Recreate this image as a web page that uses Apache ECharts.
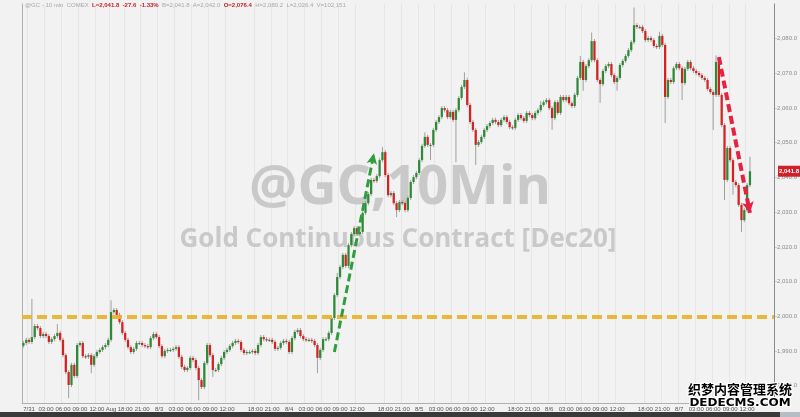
<!DOCTYPE html>
<html><head><meta charset="utf-8">
<script src="https://cdn.jsdelivr.net/npm/echarts@6/dist/echarts.min.js"></script>
<style>html,body{margin:0;padding:0;background:#f2f2f2;}#c{width:800px;height:417px;}</style>
</head><body><div id="c"></div>
<script>
const closes = [
1992.3,1993.2,1992.6,1994.0,1997.2,1996.6,1994.3,1994.9,1994.3,1992.6,
1993.4,1994.3,1995.2,1993.2,1988.8,1983.9,1980.2,1986.0,1982.8,1991.7,
1992.3,1988.5,1988.3,1988.8,1986.0,1988.5,1989.7,1990.3,1991.1,1991.7,
1993.2,2001.2,2001.8,2000.4,1998.3,1995.2,1993.2,1991.1,1989.7,1990.6,
1992.3,1992.3,1991.7,1991.4,1991.1,1993.7,1994.9,1994.0,1991.4,1988.5,
1990.0,1990.3,1990.3,1990.6,1991.1,1988.3,1985.4,1984.5,1985.1,1988.0,
1987.4,1985.1,1981.6,1979.6,1986.5,1991.7,1988.8,1984.5,1984.5,1986.2,
1988.0,1989.7,1990.3,1991.4,1992.3,1992.9,1992.6,1990.3,1989.4,1989.7,
1989.7,1990.0,1989.4,1991.7,1994.0,1993.4,1993.2,1993.2,1992.6,1990.6,
1990.9,1992.3,1992.9,1992.6,1989.7,1993.7,1995.5,1996.0,1994.3,1993.4,
1993.2,1993.2,1992.9,1991.7,1988.0,1990.3,1993.4,1993.4,1995.2,1999.5,
2006.1,2011.3,2014.2,2017.7,2014.5,2020.5,2023.7,2025.4,2023.7,2024.3,
2029.8,2032.6,2035.2,2039.3,2039.0,2040.4,2045.0,2047.3,2040.7,2034.9,
2035.5,2032.6,2030.6,2032.9,2032.6,2030.6,2034.1,2038.7,2040.1,2041.3,
2045.0,2049.1,2051.7,2049.4,2049.4,2053.7,2056.0,2057.4,2060.0,2059.4,
2057.4,2058.9,2056.6,2059.4,2062.9,2066.1,2068.1,2060.9,2056.0,2053.7,
2049.4,2050.2,2051.7,2053.7,2054.8,2055.7,2056.6,2056.0,2055.1,2056.6,
2057.4,2056.0,2054.5,2054.3,2056.6,2058.0,2057.1,2056.3,2058.6,2058.0,
2057.1,2058.6,2059.4,2060.9,2061.7,2062.3,2060.0,2057.1,2061.7,2058.6,
2063.2,2062.3,2063.2,2061.4,2060.6,2063.8,2068.7,2073.3,2068.1,2072.1,
2073.8,2079.3,2073.8,2068.1,2066.9,2070.7,2072.1,2072.7,2069.5,2067.5,
2068.7,2072.4,2073.6,2075.0,2076.7,2079.0,2083.9,2083.4,2083.4,2082.2,
2079.6,2080.2,2079.6,2077.9,2077.6,2080.8,2078.2,2063.2,2068.1,2067.5,
2071.5,2072.7,2071.5,2067.2,2071.3,2073.3,2071.5,2070.7,2070.1,2069.5,
2068.7,2068.1,2065.5,2064.6,2063.8,2073.3,2063.8,2055.1,2039.3,2048.5,
2045.0,2038.7,2037.8,2032.1,2027.7,2030.6,2037.8,2041.8];
const firstOpen = 1991.5;
// notable wick extremes [barIndex, price]
const highWicks = [[3,2005.0],[12,1997.8],[31,2004.6],[111,2012.5],[127,2048.8],[142,2053.0],[156,2070.3],[183,2062.0],[197,2075.0],[201,2081.8],[216,2089.0],[225,2082.0],[245,2075.2],[257,2046.0]];
const lowWicks = [[16,1976.4],[24,1983.6],[62,1975.8],[67,1982.5],[104,1983.6],[132,2028.6],[144,2045.0],[153,2044.4],[160,2043.6],[187,2053.7],[198,2065.0],[204,2061.5],[210,2065.0],[227,2055.7],[233,2062.3],[244,2053.7],[248,2033.5],[251,2035.0],[254,2024.3]];
const emptySlots = 8;
const tickLabels = ['7/31','03:00','06:00','09:00','12:00','Aug','18:00','21:00','8/3','03:00','06:00','09:00','12:00','18:00','21:00','8/4','03:00','06:00','09:00','12:00','18:00','21:00','8/5','03:00','06:00','09:00','12:00','18:00','21:00','8/6','03:00','06:00','09:00','12:00','18:00','21:00','8/7','03:00','06:00','09:00','12:00'];
const tickIndex = [2,8,14,20,26,31,36,42,48,54,60,66,72,82,88,94,100,106,112,118,128,134,140,146,152,158,164,174,180,186,192,198,204,210,220,226,232,238,244,250,256];
const supportLevel = 2000;
const greenArrow = [[110,1989.7],[124,2047.0]];
const redArrow = [[246,2074.7],[257,2029.8]];
const lastPrice = 2041.8;

const hiMap = {}; highWicks.forEach(d => hiMap[d[0]] = d[1]);
const loMap = {}; lowWicks.forEach(d => loMap[d[0]] = d[1]);
const candles = closes.map((c, i) => {
  const o = i === 0 ? firstOpen : closes[i - 1];
  const h = hiMap[i] !== undefined ? hiMap[i] : Math.max(o, c) + 0.6;
  const l = loMap[i] !== undefined ? loMap[i] : Math.min(o, c) - 0.6;
  return [i, o, c, l, h];
});
const cats = [];
for (let i = 0; i < closes.length + emptySlots; i++) cats.push(String(i));
const labelMap = {}; tickIndex.forEach((ix, k) => labelMap[ix] = tickLabels[k]);
const isTick = (idx) => labelMap[idx] !== undefined;

function renderItem(params, api) {
  const i = api.value(0), o = api.value(1), c = api.value(2), l = api.value(3), h = api.value(4);
  const pO = api.coord([i, o]), pC = api.coord([i, c]), pL = api.coord([i, l]), pH = api.coord([i, h]);
  const w = api.size([1, 0])[0] * 0.8;
  const top = Math.min(pO[1], pC[1]);
  const bh = Math.max(Math.abs(pO[1] - pC[1]), 1.2);
  const col = c >= o ? '#2e8a36' : '#d42222';
  return { type: 'group', children: [
    { type: 'line', shape: { x1: pH[0], y1: pH[1], x2: pL[0], y2: pL[1] }, style: { stroke: '#a0a0a0', lineWidth: 1 } },
    { type: 'rect', shape: { x: pO[0] - w / 2, y: top, width: w, height: bh }, style: { fill: col } }
  ]};
}

const chart = echarts.init(document.getElementById('c'), null, { renderer: 'canvas' });
const fmt = v => v.toLocaleString('en-US', { minimumFractionDigits: 1, maximumFractionDigits: 1 });
chart.setOption({
  backgroundColor: '#f2f2f2',
  animation: false,
  grid: { left: 22, right: 23, top: 4, bottom: 14 },
  xAxis: {
    type: 'category', data: cats, boundaryGap: true,
    axisLine: { lineStyle: { color: '#b0b0b0' } },
    axisTick: { interval: (idx) => isTick(idx), length: 2, alignWithLabel: true, lineStyle: { color: '#999' } },
    axisLabel: { interval: (idx) => isTick(idx), formatter: (v, idx) => labelMap[idx] || '', fontSize: 6, color: '#555', margin: 3, fontFamily: 'Liberation Sans' },
    splitLine: { show: true, interval: (idx) => isTick(idx), lineStyle: { color: '#e6e6e6', width: 1 } }
  },
  yAxis: [{
    type: 'value', position: 'right', min: 1975, max: 2090, interval: 5,
    axisLine: { show: true, lineStyle: { color: '#8c8c8c' } },
    axisTick: { show: false },
    axisLabel: { showMaxLabel: false, formatter: v => (Math.abs(v % 10) < 1e-6 ? '-' + fmt(v) : ''), fontSize: 6, color: '#8a8a8a', margin: 1, fontFamily: 'Liberation Sans' },
    splitLine: { show: false }
  }, {
    type: 'value', position: 'left', min: 1975, max: 2090, interval: 5,
    axisLine: { show: true, lineStyle: { color: '#b0b0b0' } },
    axisTick: { show: false }, axisLabel: { show: false }, splitLine: { show: false }
  }],
  series: [{
    type: 'custom', renderItem: renderItem, data: candles,
    encode: { x: 0, y: [1, 2, 3, 4] }, z: 3
  }, {
    type: 'line', data: [], z: 4,
    markLine: {
      silent: true, animation: false, symbol: ['none', 'none'],
      label: { show: false },
      data: [
        { yAxis: supportLevel, lineStyle: { color: '#eab232', width: 4, type: [10, 5], opacity: 0.95 } },
        [{ coord: greenArrow[0], symbol: 'none' }, { coord: greenArrow[1], symbol: 'arrow', symbolSize: [8, 11], lineStyle: { color: '#2f9e3e', width: 3, type: [8, 4] } }],
        [{ coord: redArrow[0], symbol: 'none' }, { coord: redArrow[1], symbol: 'arrow', symbolSize: [9, 11], lineStyle: { color: '#e5223f', width: 4, type: [8, 4] } }]
      ]
    }
  }]
});

const py = chart.convertToPixel({ yAxisIndex: 0 }, lastPrice);
chart.setOption({
  graphic: [
    { type: 'text', z: 0, left: 'center', top: 162, style: { text: '@GC,10Min', fontSize: 54, fontWeight: 'bold', fontFamily: 'Open Sans', fill: '#c9c9c9' } },
    { type: 'text', z: 0, x: 398, y: 240, style: { text: 'Gold Continuous Contract [Dec20]', fontSize: 26, fontWeight: 'bold', fontFamily: 'Open Sans', fill: '#c9c9c9', align: 'center', verticalAlign: 'middle' } },
    { type: 'text', z: 10, x: 25, y: 2, style: { rich: {
        g: { fontSize: 6, fill: '#a8a8a8', fontFamily: 'Liberation Sans' },
        r: { fontSize: 6, fill: '#c8202c', fontWeight: 'bold', fontFamily: 'Liberation Sans' } },
        text: '{g|@GC - 10 min  COMEX  }{r|L=2,041.8  -27.6  -1.33%}{g|  B=2,041.8  A=2,042.0  }{r|O=2,076.4}{g|  H=2,080.2  L=2,026.4  V=102,151}' } },
    { type: 'rect', z: 10, shape: { x: 778, y: py - 5.5, width: 22, height: 11 }, style: { fill: '#d0202a' } },
    { type: 'text', z: 11, x: 789, y: py, style: { text: fmt(lastPrice), fontSize: 6, fontWeight: 'bold', fill: '#fff', align: 'center', verticalAlign: 'middle', fontFamily: 'Liberation Sans' } },
    { type: 'rect', z: 10, shape: { x: 0, y: 412, width: 780, height: 5 }, style: { fill: '#3a3a3a' } },
    { type: 'rect', z: 10, shape: { x: 780, y: 412, width: 20, height: 5 }, style: { fill: '#b8bcc4' } },
    { type: 'text', z: 12, x: 740, y: 389, style: { text: '织梦内容管理系统', fontSize: 13, fontWeight: 'bold', fontFamily: 'Noto Sans CJK SC', fill: '#000', stroke: '#fff', lineWidth: 2, align: 'center', verticalAlign: 'middle' } },
    { type: 'text', z: 12, x: 740, y: 403, scaleX: 1.2, originX: 0, originY: 0, style: { text: 'DEDECMS.COM', fontSize: 10, fontWeight: 'bold', fontFamily: 'DejaVu Sans', fill: '#000', stroke: '#fff', lineWidth: 2, align: 'center', verticalAlign: 'middle' } }
  ]
});
</script></body></html>
